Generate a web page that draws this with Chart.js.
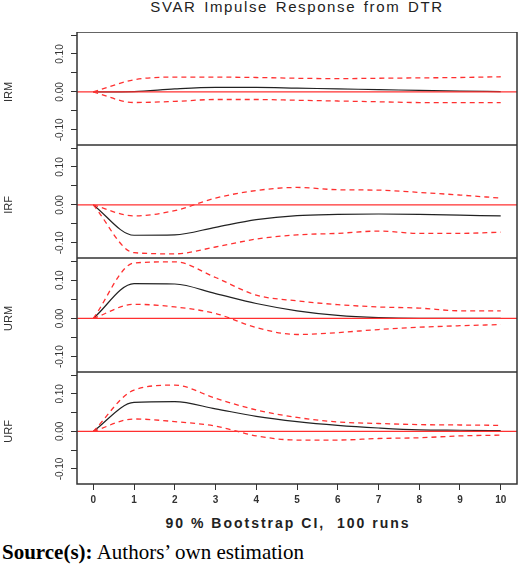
<!DOCTYPE html>
<html>
<head>
<meta charset="utf-8">
<script src="https://cdn.jsdelivr.net/npm/chart.js@4"></script>
<style>
  body { margin:0; background:#fff; width:520px; height:575px; position:relative; overflow:hidden; }
  .panel { position:absolute; left:0; width:520px; }
  #title { position:absolute; top:-2px; left:60px; width:474px; text-align:center; font:15px "Liberation Sans", Arial, sans-serif; color:#222; letter-spacing:1.6px; word-spacing:2px; }
  #ci { position:absolute; top:515px; left:60px; width:456px; text-align:center; font:bold 14px "Liberation Sans", Arial, sans-serif; color:#222; letter-spacing:2px; }
  #src { position:absolute; top:540px; left:2px; font:21px "Liberation Serif", "Times New Roman", serif; color:#000; }
</style>
</head>
<body>
<div id="title">SVAR Impulse Response from DTR</div>
<div class="panel" style="top:32px;height:113px"><canvas id="c1"></canvas></div>
<div class="panel" style="top:145px;height:113px"><canvas id="c2"></canvas></div>
<div class="panel" style="top:258px;height:114px"><canvas id="c3"></canvas></div>
<div class="panel" style="top:372px;height:140px"><canvas id="c4"></canvas></div>
<div id="ci">90 % Bootstrap CI,&nbsp;&nbsp;100 runs</div>
<div id="src"><b>Source(s):</b> Authors’ own estimation</div>
<script>
var periods = [0,1,2,3,4,5,6,7,8,9,10];

var irm = [0,0.001,0.008,0.012,0.012,0.010,0.008,0.006,0.004,0.002,0.001];
var irmUp = [0,0.032,0.039,0.039,0.038,0.036,0.035,0.036,0.037,0.038,0.040];
var irmLo = [0,-0.028,-0.025,-0.020,-0.020,-0.022,-0.024,-0.026,-0.028,-0.028,-0.028];

var irf = [0,-0.080,-0.079,-0.059,-0.039,-0.028,-0.025,-0.024,-0.025,-0.027,-0.029];
var irfUp = [0,-0.029,-0.015,0.018,0.038,0.046,0.040,0.039,0.033,0.026,0.018];
var irfLo = [0,-0.126,-0.129,-0.111,-0.090,-0.079,-0.075,-0.069,-0.075,-0.075,-0.072];

var urm = [0,0.091,0.090,0.065,0.039,0.020,0.008,0.002,0,0,0];
var urmUp = [0,0.145,0.148,0.107,0.061,0.046,0.036,0.030,0.027,0.020,0.020];
var urmLo = [0,0.037,0.030,0.013,-0.024,-0.042,-0.037,-0.029,-0.023,-0.019,-0.016];

var urf = [0,0.077,0.079,0.060,0.040,0.026,0.016,0.009,0.004,0.003,0.002];
var urfUp = [0,0.110,0.123,0.088,0.057,0.037,0.025,0.021,0.018,0.017,0.016];
var urfLo = [0,0.033,0.026,0.014,-0.012,-0.023,-0.023,-0.019,-0.017,-0.012,-0.010];

var yTicks = [-0.15,-0.10,-0.05,0,0.05,0.10,0.15];
var yLabels = [-0.10,0.00,0.10];

function pts(arr) {
  return arr.map(function(v, i) { return {x: periods[i], y: v}; });
}

var panelPlugin = {
  id: 'panel',
  afterDraw: function(chart) {
    var ctx = chart.ctx, a = chart.chartArea, ys = chart.scales.y;
    ctx.save();
    // zero line
    ctx.strokeStyle = '#ff3030';
    ctx.lineWidth = 1.2;
    ctx.beginPath();
    var y0 = ys.getPixelForValue(0);
    ctx.moveTo(a.left, y0); ctx.lineTo(a.right, y0); ctx.stroke();
    // box
    ctx.strokeStyle = '#333';
    ctx.lineWidth = 1.5;
    ctx.strokeRect(a.left, a.top, a.right - a.left, a.bottom - a.top);
    // rotated tick labels
    ctx.fillStyle = '#333';
    ctx.font = '10px "Liberation Sans", Arial, sans-serif';
    ctx.textAlign = 'center';
    ctx.textBaseline = 'middle';
    yLabels.forEach(function(v) {
      ctx.save();
      ctx.translate(60, ys.getPixelForValue(v));
      ctx.rotate(-Math.PI / 2);
      ctx.fillText(v.toFixed(2), 0, 0);
      ctx.restore();
    });
    // panel name
    ctx.font = '11px "Liberation Sans Narrow", "Liberation Sans", Arial, sans-serif';
    ctx.save();
    ctx.translate(9, ys.getPixelForValue(0));
    ctx.rotate(-Math.PI / 2);
    ctx.fillText(chart.options.plugins.panel.name, 0, 0);
    ctx.restore();
    ctx.restore();
  }
};

function makePanel(id, name, mid, up, lo, showX) {
  new Chart(document.getElementById(id), {
    type: 'line',
    data: {
      datasets: [
        { data: pts(up), borderColor: '#ff3030', borderDash: [5, 4], borderWidth: 1.3, pointRadius: 0, cubicInterpolationMode: 'monotone' },
        { data: pts(lo), borderColor: '#ff3030', borderDash: [5, 4], borderWidth: 1.3, pointRadius: 0, cubicInterpolationMode: 'monotone' },
        { data: pts(mid), borderColor: '#222', borderWidth: 1.2, pointRadius: 0, cubicInterpolationMode: 'monotone' }
      ]
    },
    plugins: [panelPlugin],
    options: {
      responsive: true,
      maintainAspectRatio: false,
      animation: false,
      layout: { padding: { right: 3, top: 0, bottom: 0 } },
      plugins: { legend: { display: false }, tooltip: { enabled: false }, panel: { name: name } },
      scales: {
        x: {
          type: 'linear', min: -0.4, max: 10.4,
          display: showX,
          afterBuildTicks: function(s) { s.ticks = periods.map(function(p) { return {value: p}; }); },
          afterFit: function(s) { if (showX) s.height = 28; },
          grid: { drawOnChartArea: false, tickLength: 6, color: '#333' },
          border: { display: false },
          ticks: { color: '#333', font: { size: 10, family: 'Liberation Sans', weight: 'bold' }, padding: 4, maxRotation: 0 }
        },
        y: {
          min: -0.14, max: 0.158,
          afterBuildTicks: function(s) { s.ticks = yTicks.filter(function(v){ return v >= -0.14 && v <= 0.158; }).map(function(v) { return {value: v}; }); },
          afterFit: function(s) { s.width = 77; },
          grid: { drawOnChartArea: false, tickLength: 6, color: '#333' },
          border: { display: false },
          ticks: { display: false }
        }
      }
    }
  });
}

makePanel('c1', 'IRM', irm, irmUp, irmLo, false);
makePanel('c2', 'IRF', irf, irfUp, irfLo, false);
makePanel('c3', 'URM', urm, urmUp, urmLo, false);
makePanel('c4', 'URF', urf, urfUp, urfLo, true);
</script>
</body>
</html>
